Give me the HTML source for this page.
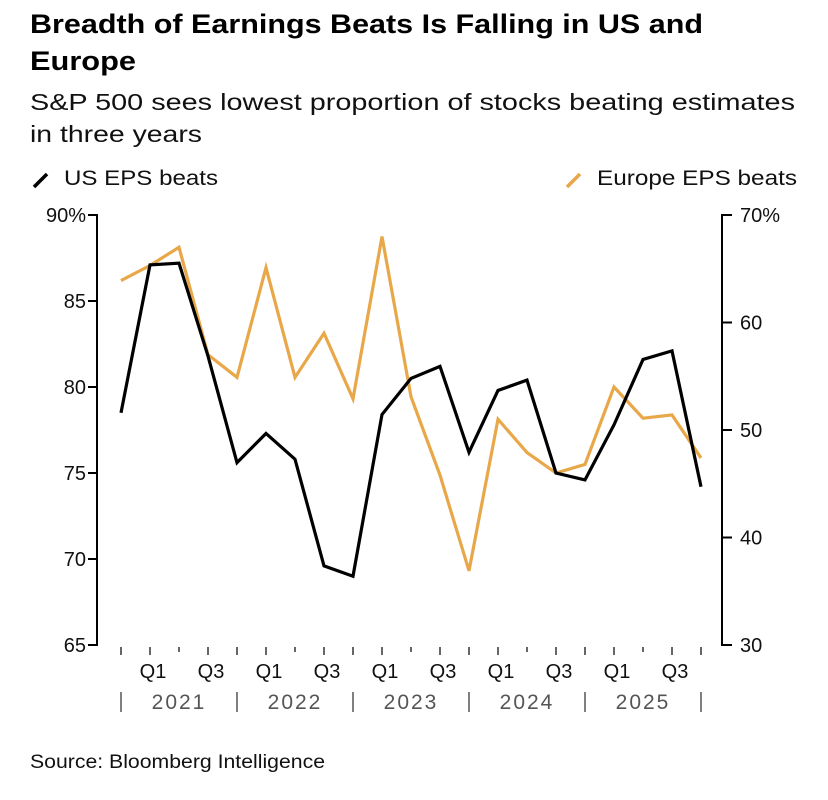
<!DOCTYPE html>
<html><head><meta charset="utf-8"><style>
body{margin:0;background:#fff;width:828px;height:795px;overflow:hidden;font-family:"Liberation Sans",sans-serif}
</style></head><body>
<svg width="828" height="795" font-family="Liberation Sans, sans-serif">
<text x="30" y="33" font-size="27" font-weight="bold" fill="#000" textLength="673" lengthAdjust="spacingAndGlyphs">Breadth of Earnings Beats Is Falling in US and</text>
<text x="30" y="70" font-size="27" font-weight="bold" fill="#000" textLength="106" lengthAdjust="spacingAndGlyphs">Europe</text>
<text x="30" y="110" font-size="23" fill="#111" textLength="765" lengthAdjust="spacingAndGlyphs">S&amp;P 500 sees lowest proportion of stocks beating estimates</text>
<text x="30" y="142" font-size="23" fill="#111" textLength="172" lengthAdjust="spacingAndGlyphs">in three years</text>
<g><line x1="34" y1="187" x2="47" y2="174" stroke="#000" stroke-width="3.5"/><text x="64" y="185" font-size="21" fill="#111" textLength="154" lengthAdjust="spacingAndGlyphs">US EPS beats</text></g>
<g><line x1="567" y1="187" x2="580" y2="174" stroke="#e8a84a" stroke-width="3.5"/><text x="597" y="185" font-size="21" fill="#111" textLength="200" lengthAdjust="spacingAndGlyphs">Europe EPS beats</text></g>
<g id="axes"></g>
<text x="30" y="768" font-size="19" fill="#111" textLength="295" lengthAdjust="spacingAndGlyphs">Source: Bloomberg Intelligence</text>
</svg>
<script>
const quarters=["Q4 2020","Q1 2021","Q2 2021","Q3 2021","Q4 2021","Q1 2022","Q2 2022","Q3 2022","Q4 2022","Q1 2023","Q2 2023","Q3 2023","Q4 2023","Q1 2024","Q2 2024","Q3 2024","Q4 2024","Q1 2025","Q2 2025","Q3 2025","Q4 2025"];
const usBeats=[78.5,87.1,87.2,81.8,75.6,77.3,75.8,69.6,69.0,78.4,80.5,81.2,76.2,79.8,80.4,75.0,74.6,77.8,81.6,82.1,74.2];
const europeBeats=[63.9,65.3,67.0,57.0,54.9,65.1,54.9,59.0,52.9,68.0,53.1,45.8,36.9,51.0,47.9,46.0,46.8,54.0,51.1,51.4,47.4];
const leftTicks=[90,85,80,75,70,65];
const rightTicks=[70,60,50,40,30];
const years=["2021","2022","2023","2024","2025"];
const NS="http://www.w3.org/2000/svg";
const svg=document.querySelector('svg');
const X0=121,DX=29,Y0=215,Y1=645;
const x=i=>X0+i*DX;
const yL=v=>Y0+(90-v)/25*(Y1-Y0);
const yR=v=>Y0+(70-v)/40*(Y1-Y0);
function mk(t,a,p){const e=document.createElementNS(NS,t);for(const k in a)e.setAttribute(k,a[k]);(p||svg).appendChild(e);return e;}
const g=document.getElementById('axes');
let e=mk('path',{d:`M88 ${Y0}H97V${Y1}H88`,stroke:'#000','stroke-width':2,fill:'none'},g);


e=mk('path',{d:`M732 ${Y0}H722V${Y1}H732`,stroke:'#000','stroke-width':2,fill:'none'},g);


leftTicks.forEach((v,i)=>{
 mk('line',{x1:88,x2:97,y1:yL(v),y2:yL(v),stroke:'#000','stroke-width':2},g);
 const t=mk('text',{x:86,y:yL(v)+7,'font-size':20,'text-anchor':'end',fill:'#111'},g);
 t.textContent=i==0?v+'%':v;
 
 
});
rightTicks.forEach((v,i)=>{
 mk('line',{x1:722,x2:732,y1:yR(v),y2:yR(v),stroke:'#000','stroke-width':2},g);
 const t=mk('text',{x:740,y:yR(v)+7,'font-size':20,fill:'#111'},g);
 t.textContent=i==0?v+'%':v;
 
 
});
quarters.forEach((q,i)=>{
 const qn=q.split(' ')[0];
 const h=(qn=='Q2')?5:8;
 mk('line',{x1:x(i),x2:x(i),y1:647,y2:647+h,stroke:'#333','stroke-width':1.5},g);
 if(qn=='Q1'||qn=='Q3'){const t=mk('text',{x:x(i)+3,y:678,'font-size':20,'text-anchor':'middle',fill:'#111'},g);t.textContent=qn;
 
 }
 if(qn=='Q4'){mk('line',{x1:x(i),x2:x(i),y1:692,y2:712,stroke:'#555','stroke-width':1.5},g);}
});
years.forEach((y,i)=>{const t=mk('text',{x:x(i*4+2),y:709,'font-size':21,'text-anchor':'middle',fill:'#555','letter-spacing':'2'},g);t.textContent=y;
 
 });
function line(vals,fy,col,name){const d=vals.map((v,i)=>(i?'L':'M')+x(i)+' '+fy(v)).join('');
 const p=mk('path',{d,stroke:col,'stroke-width':3.2,fill:'none','stroke-linejoin':'miter'});
 
 }
line(europeBeats,yR,'#e8a84a','europe-eps-line');
line(usBeats,yL,'#000','us-eps-line');
</script>
</body></html>
